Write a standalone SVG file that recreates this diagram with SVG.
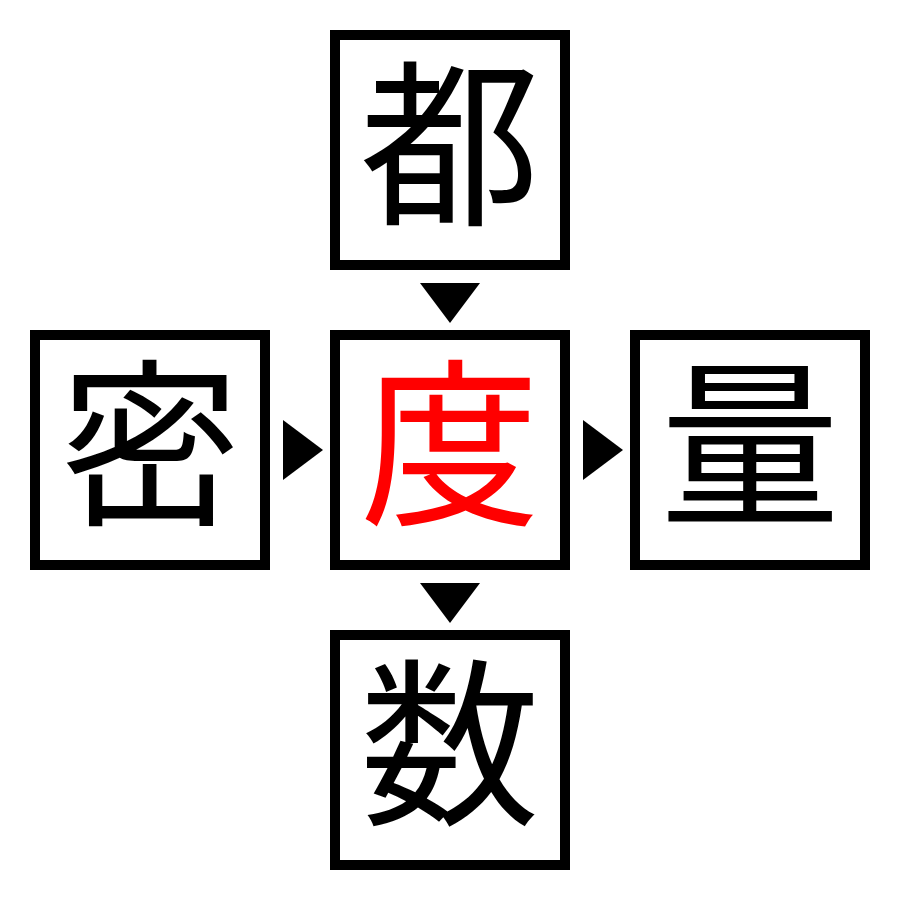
<svg xmlns="http://www.w3.org/2000/svg" width="900" height="900" viewBox="0 0 900 900">
<style>
.box{fill:#fff;stroke:#000;stroke-width:10}
.t{font-family:"Liberation Serif","Noto Sans CJK JP",serif;font-size:180px;text-anchor:middle;dominant-baseline:central}
.arr{fill:#000}
</style>
<rect width="900" height="900" fill="#fff"/>
<g id="n-top"><rect class="box" x="335" y="35" width="230" height="230"/><text class="t" x="450" y="150">都</text></g>
<g id="n-left"><rect class="box" x="35" y="335" width="230" height="230"/><text class="t" x="150" y="450">密</text></g>
<g id="n-center"><rect class="box" x="335" y="335" width="230" height="230"/><text class="t" x="450" y="450" fill="#ff0000">度</text></g>
<g id="n-right"><rect class="box" x="635" y="335" width="230" height="230"/><text class="t" x="750" y="450">量</text></g>
<g id="n-bottom"><rect class="box" x="335" y="635" width="230" height="230"/><text class="t" x="450" y="750">数</text></g>
<g id="connectors">
<polygon class="arr" points="420,283 480,283 450,323"/>
<polygon class="arr" points="420,583 480,583 450,623"/>
<polygon class="arr" points="283,420 283,480 323,450"/>
<polygon class="arr" points="583,420 583,480 623,450"/>
</g>
</svg>
